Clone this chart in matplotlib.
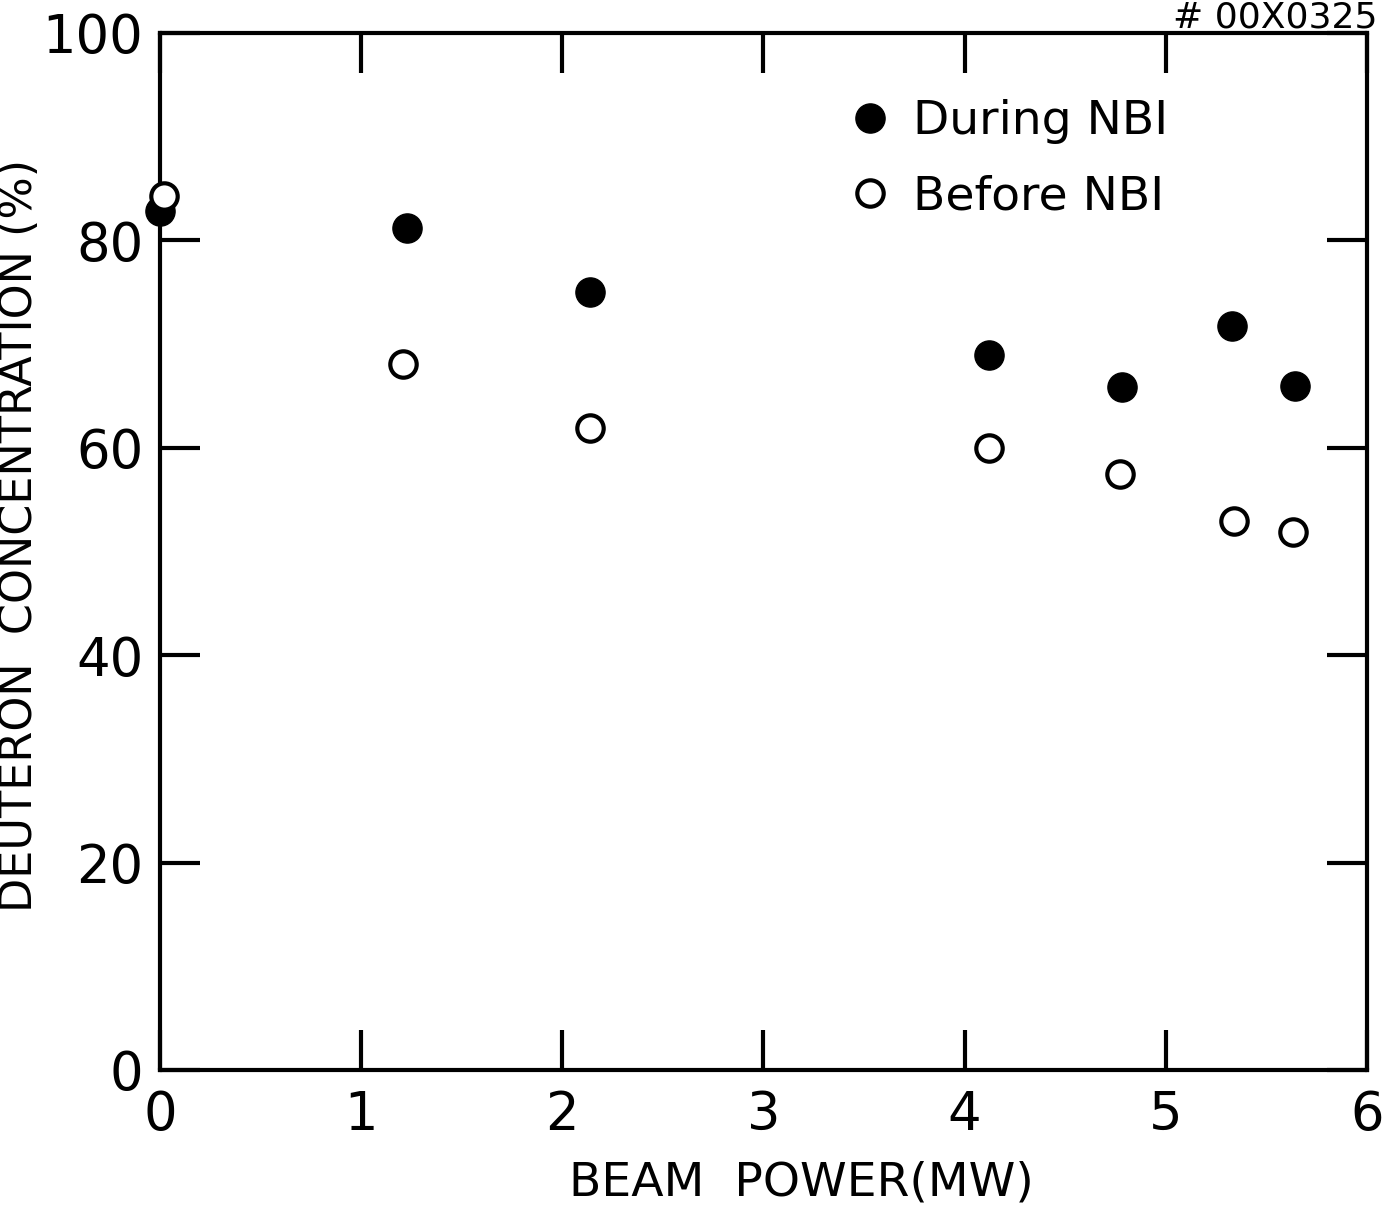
import matplotlib
matplotlib.use("Agg")
import matplotlib.pyplot as plt

# beam power (MW) and deuteron concentration (%)
power_during = [0.0, 1.23, 2.14, 4.12, 4.78, 5.33, 5.64]
conc_during = [82.8, 81.2, 75.0, 68.9, 65.9, 71.7, 66.0]

power_before = [0.02, 1.21, 2.14, 4.12, 4.77, 5.34, 5.63]
conc_before = [84.3, 68.1, 61.9, 60.0, 57.5, 52.9, 51.9]

x_ticks = [0, 1, 2, 3, 4, 5, 6]
y_ticks = [0, 20, 40, 60, 80, 100]

plt.rcParams['font.family'] = ['DejaVu Sans']

fig = plt.figure(figsize=(13.82, 12.12), dpi=100)
ax = fig.add_axes([0.1158, 0.1172, 0.8733, 0.8556])

ax.plot(power_during, conc_during, 'o', color='black', markersize=21,
        label='During NBI', clip_on=False, zorder=3)
ax.plot(power_before, conc_before, 'o', markerfacecolor='white',
        markeredgecolor='black', markeredgewidth=3, markersize=19,
        label='Before NBI', clip_on=False, zorder=4)

ax.set_xlim(0, 6)
ax.set_ylim(0, 100)
ax.set_xticks(x_ticks)
ax.set_yticks(y_ticks)
ax.set_xticklabels([str(v) for v in x_ticks])
ax.set_yticklabels([str(v) for v in y_ticks])

for side in ax.spines.values():
    side.set_linewidth(3)
ax.tick_params(direction='in', length=29, width=3, top=True, right=True,
               labelsize=38, pad=12)
ax.tick_params(axis='x', pad=14)

ax.set_xlabel('BEAM  POWER(MW)', fontsize=34)
ax.xaxis.set_label_coords(0.531, -0.087)
ax.set_ylabel('DEUTERON  CONCENTRATION (%)', fontsize=32)
ax.yaxis.set_label_coords(-0.099, 0.515)

ax.legend(loc='upper left', bbox_to_anchor=(0.569, 0.936), frameon=False,
          fontsize=34, handlelength=1.0, handletextpad=0.4,
          labelspacing=0.64, borderaxespad=0, borderpad=0)

# figure number in the top right corner
fig.text(0.997, 1 - 28 / 1212, '# 00X0325', ha='right', va='baseline',
         fontsize=26)

fig.savefig('out.png', dpi=100)
